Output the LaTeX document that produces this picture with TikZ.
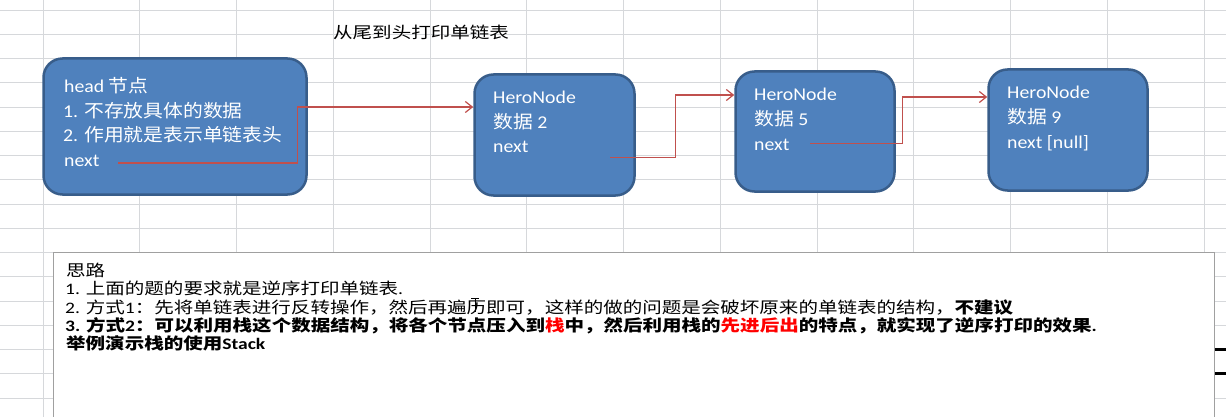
\documentclass[tikz,border=0pt]{standalone}
\usepackage{fontspec}
\usepackage{graphicx}
\setmainfont{Carlito}
\newfontfamily\cjk{Noto Sans CJK SC}
\usetikzlibrary{arrows.meta}
\definecolor{gridc}{RGB}{214,216,219}
\definecolor{boxfill}{HTML}{4F81BD}
\definecolor{boxline}{HTML}{385D8A}
\definecolor{arrc}{HTML}{C0504D}
\definecolor{notegray}{RGB}{160,160,160}
\newcommand\zh[1]{{\cjk #1}}
\newcommand\stra[1]{\scalebox{1.1}[1]{#1}}
\newcommand\strb[1]{\scalebox{1.22}[1]{#1}}
\begin{document}
\begin{tikzpicture}[x=1pt,y=-1pt,
  gridl/.style={draw=gridc, line width=0.9pt},
  herobox/.style={draw=boxline, fill=boxfill, line width=2.5pt, rounded corners=19pt, inner sep=0pt},
  boxtxt/.style={anchor=base west, inner sep=0pt, text=white, font=\fontsize{18}{22}\selectfont},
  notetxt/.style={anchor=base west, inner sep=0pt, text=black, font=\fontsize{16}{19}\selectfont},
  arr/.style={draw=arrc, line width=1.2pt, -{Straight Barb[length=7pt,width=11pt]}}]
\useasboundingbox (0,0) rectangle (1226,417);
% spreadsheet grid
\foreach \i in {0,...,16} \draw[gridl] (0,10+24.25*\i) -- (1226,10+24.25*\i);
\foreach \i in {0,...,12} \draw[gridl] (43+96.75*\i,0) -- (43+96.75*\i,417);
% title
\node[notetxt] (title) at (333,39) {\strb{\zh{从尾到头打印单链表}}};
% boxes
\node[herobox, minimum width=263pt, minimum height=136pt] (head) at (175,126.5) {};
\node[herobox, minimum width=160pt, minimum height=121pt] (n2) at (554.5,135) {};
\node[herobox, minimum width=159pt, minimum height=120pt] (n5) at (815,131.5) {};
\node[herobox, minimum width=159pt, minimum height=121pt] (n9) at (1068,130) {};
% head text
\node[boxtxt] (h1) at (64,92.3) {\stra{head \zh{节点}}};
\node[boxtxt] (h2) at (63,117.3) {\stra{1. \zh{不存放具体的数据}}};
\node[boxtxt] (h3) at (63,141.7) {\stra{2. \zh{作用就是表示单链表头}}};
\node[boxtxt] (hnext) at (64,166.7) {\stra{next}};
% node 2
\node[boxtxt] (a1) at (493,104) {\stra{HeroNode}};
\node[boxtxt] (a2) at (493,129) {\stra{\zh{数据} 2}};
\node[boxtxt] (n2next) at (493,153) {\stra{next}};
% node 5
\node[boxtxt] (b1) at (754,100.5) {\stra{HeroNode}};
\node[boxtxt] (b2) at (754,125.5) {\stra{\zh{数据} 5}};
\node[boxtxt] (n5next) at (754,150.5) {\stra{next}};
% node 9
\node[boxtxt] (c1) at (1007,99) {\stra{HeroNode}};
\node[boxtxt] (c2) at (1007,124) {\stra{\zh{数据} 9}};
\node[boxtxt] (n9next) at (1007,149) {\stra{next [null]}};
% connectors
\draw[arr] ([xshift=18.5pt,yshift=-2pt]hnext.east) -- ++(179,0) |- ([yshift=28pt]n2.west);
\draw[arr] ([xshift=81.5pt,yshift=-10.5pt]n2next.east) -- ++(65,0) |- ([yshift=36.5pt]n5.west);
\draw[arr] ([xshift=20.5pt,yshift=1.5pt]n5next.east) -- ++(92,0) |- ([yshift=33pt]n9.west);
% notes box
\node[draw=notegray, fill=white, line width=1pt, anchor=north west, minimum width=1161pt, minimum height=170pt, inner sep=0pt] (notes) at (53,252) {};
\node[notetxt] (l0) at (66,276) {\strb{\zh{思路}}};
\node[notetxt] (l1) at (65,294.5) {\strb{1. \zh{上面的题的要求就是逆序打印单链表}.}};
\node[notetxt] (l2) at (65,313) {\strb{2. \zh{方式}1\zh{：先将单链表进行反转操作，然后再遍历即可，这样的做的问题是会破坏原来的单链表的结构，}{\bfseries\zh{不建议}}}};
\node[notetxt] (l3) at (65,331.3) {\strb{\bfseries 3. \zh{方式}2\zh{：可以利用栈这个数据结构，将各个节点压入到}\textcolor{red}{\zh{栈}}\zh{中，然后利用栈的}\textcolor{red}{\zh{先进后出}}\zh{的特点，就实现了逆序打印的效果}.}};
\node[notetxt] (l4) at (66,349.7) {\strb{\bfseries\zh{举例演示栈的使用}Stack}};
% text cursor
\draw[line width=1pt] (471,298) -- (479,298) (475,298) -- (475,312);
% marks at right edge
\draw[line width=3pt] (1215,349) -- (1226,349) (1215,373) -- (1226,373);
\end{tikzpicture}
\end{document}
